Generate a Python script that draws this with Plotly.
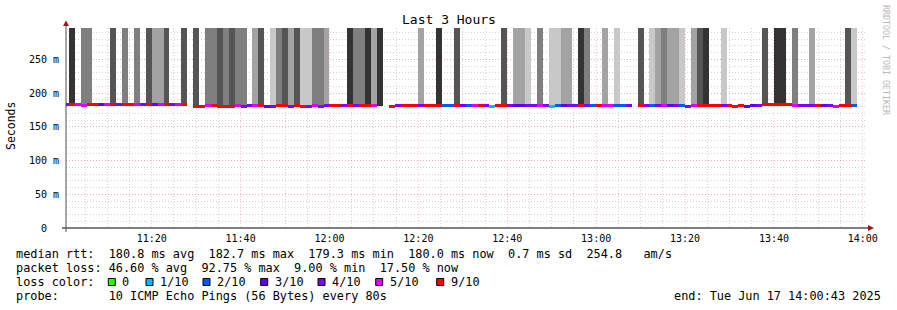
import plotly.graph_objects as go
import pandas as pd

# ---------------- canvas / plot-area geometry (pixels) ----------------
W, H = 897, 310
L, R, T, B = 66, 866, 28, 228

# ---------------- data ----------------
STEP_START = "2025-06-17 11:00:00"      # start of first (partial) 80 s step
STEP_SECONDS = 80
X_START = "2025-06-17 11:00:43"
X_END = "2025-06-17 14:00:43"
Y_MAX = 296.3                            # ms at top of plot
SMOKE_TOP = 2000.0                       # smoke extends beyond the visible range
LINE_MS = 4.4                            # thickness of the median line (ms)

# median rtt per 80 s step (ms); None = no data
median_ms = [
    182.3, 182.4, 182.4, 182.2, 182.7, 182.3, 182.4, 182.4, 182.3, 182.4,
    182.3, 182.4, 182.5, 182.4, 182.6, 182.5, 182.5, 182.4, 182.5, 182.5,
    182.4, None, 180.6, 180.4, 181.4, 180.8, 180.2, 180.0, 180.3, 181.0,
    180.6, 180.8, 181.2, 181.0, 180.6, 180.4, 181.0, 181.2, 180.6, 180.8,
    179.6, 180.6, 181.0, 180.6, 180.8, 181.2, 181.4, 180.8, 181.0, 181.2,
    181.6, 181.2, 181.4, None, None, 180.6, 181.8, 182.0, 182.0, 181.2,
    181.6, 181.8, 181.8, 181.8, 181.6, 181.2, 182.0, 181.6, 181.8, 182.0,
    182.0, 181.6, 179.6, 181.2, 181.6, 181.8, 182.0, 181.6, 181.0, 181.4,
    182.0, 181.6, 180.4, 181.2, 181.0, 181.2, 181.4, 181.8, 181.6, 181.0,
    181.4, 181.6, 181.6, 181.2, 181.2, 181.0, None, 181.8, 181.4, 181.2,
    181.0, 181.4, 181.0, 180.8, 181.2, 180.6, 181.6, 181.6, 181.6, 182.0,
    182.0, 181.4, 181.8, 180.6, 181.8, 180.6, 180.8, 181.4, 182.4, 182.6,
    182.6, 182.6, 182.6, 182.0, 181.6, 181.0, 180.8, 181.4, 181.0, 180.8,
    180.2, 181.6, 182.0, 180.8, None,
]

# loss bucket per step (colour of the median line)
loss_bucket = [
    "4/10", "9/10", "5/10", "5/10", "9/10", "9/10", "3/10", "5/10", "9/10", "4/10",
    "9/10", "9/10", "5/10", "4/10", "9/10", "3/10", "5/10", "9/10", "4/10", "5/10",
    "9/10", None, "9/10", "9/10", "5/10", "9/10", "9/10", "9/10", "9/10", "5/10",
    "4/10", "4/10", "5/10", "9/10", "3/10", "4/10", "9/10", "9/10", "4/10", "9/10",
    "9/10", "4/10", "5/10", "4/10", "4/10", "9/10", "9/10", "4/10", "9/10", "4/10",
    "9/10", "9/10", "5/10", None, None, "9/10", "4/10", "9/10", "9/10", "9/10",
    "4/10", "9/10", "9/10", "9/10", "2/10", "2/10", "9/10", "3/10", "2/10", "5/10",
    "9/10", "4/10", "1/10", "9/10", "9/10", "4/10", "3/10", "3/10", "4/10", "4/10",
    "5/10", "4/10", "1/10", "2/10", "3/10", "4/10", "4/10", "9/10", "4/10", "2/10",
    "9/10", "5/10", "5/10", "2/10", "2/10", "4/10", None, "9/10", "4/10", "2/10",
    "4/10", "5/10", "3/10", "4/10", "2/10", "4/10", "5/10", "9/10", "9/10", "9/10",
    "9/10", "4/10", "9/10", "9/10", "9/10", "3/10", "3/10", "4/10", "9/10", "9/10",
    "9/10", "9/10", "9/10", "5/10", "4/10", "4/10", "4/10", "9/10", "3/10", "4/10",
    "5/10", "9/10", "9/10", "2/10", None,
]

# smoke density level per step (0 = none, 1 = darkest ... 5 = lightest)
smoke_level = [
    0, 1, 0, 3, 3, 0, 0, 0, 2, 0,
    3, 0, 3, 0, 2, 4, 4, 2, 0, 0,
    2, 0, 2, 0, 3, 3, 2, 3, 2, 3,
    3, 0, 4, 2, 0, 5, 3, 2, 4, 2,
    5, 5, 3, 3, 4, 0, 0, 0, 1, 3,
    3, 1, 4, 1, 0, 0, 0, 0, 0, 0,
    4, 0, 0, 1, 0, 0, 2, 0, 0, 0,
    0, 0, 0, 0, 2, 0, 4, 4, 5, 0,
    3, 0, 5, 5, 4, 4, 0, 1, 3, 0,
    0, 4, 0, 5, 0, 0, 0, 2, 0, 5,
    4, 3, 4, 4, 5, 0, 4, 2, 1, 0,
    0, 5, 0, 0, 0, 0, 0, 0, 2, 0,
    1, 1, 0, 3, 0, 0, 4, 0, 0, 0,
    0, 0, 2, 5, 0,
]

y_tick_vals = [0, 50, 100, 150, 200, 250]
y_tick_text = ["0  ", "50 m", "100 m", "150 m", "200 m", "250 m"]

legend_buckets = ["0", "1/10", "2/10", "3/10", "4/10", "5/10", "9/10"]
stats_rtt = "median rtt:  180.8 ms avg  182.7 ms max  179.3 ms min  180.0 ms now  0.7 ms sd  254.8   am/s"
stats_loss = "packet loss: 46.60 % avg  92.75 % max  9.00 % min  17.50 % now"
probe_text = "probe:       10 ICMP Echo Pings (56 Bytes) every 80s"
end_text = "end: Tue Jun 17 14:00:43 2025"

# ---------------- styles ----------------
LOSS_COLORS = {"0": "#26ff00", "1/10": "#00b8ff", "2/10": "#0059ff", "3/10": "#5e00ff",
               "4/10": "#7e00ff", "5/10": "#dd00ff", "9/10": "#ff0000"}
SMOKE_COLORS = {1: "#333333", 2: "#555555", 3: "#7f7f7f", 4: "#a3a3a3", 5: "#c8c8c8"}
FONT = "DejaVu Sans Mono"
MGRID = "rgba(255,120,120,0.42)"
GRID = "rgba(170,170,170,0.5)"

times = pd.date_range(STEP_START, periods=len(median_ms), freq=f"{STEP_SECONDS}s") \
    + pd.Timedelta(seconds=STEP_SECONDS / 2)
width_ms = STEP_SECONDS * 1000


def fallback(i):
    if median_ms[i] is not None:
        return median_ms[i]
    for d in range(1, len(median_ms)):
        for j in (i - d, i + d):
            if 0 <= j < len(median_ms) and median_ms[j] is not None:
                return median_ms[j]
    return 0


fig = go.Figure()

# smoke
sx, sb, sy, sc = [], [], [], []
for i, lvl in enumerate(smoke_level):
    if lvl:
        base = fallback(i)
        sx.append(times[i]); sb.append(base); sy.append(SMOKE_TOP - base)
        sc.append(SMOKE_COLORS[lvl])
fig.add_trace(go.Bar(x=sx, y=sy, base=sb, width=[width_ms] * len(sx),
                     marker=dict(color=sc, line=dict(width=0)), hoverinfo="skip"))

# median line coloured by loss
mx, mb, my, mc = [], [], [], []
for i, m in enumerate(median_ms):
    if m is not None and loss_bucket[i] is not None:
        mx.append(times[i]); mb.append(m - LINE_MS / 2); my.append(LINE_MS)
        mc.append(LOSS_COLORS[loss_bucket[i]])
fig.add_trace(go.Bar(x=mx, y=my, base=mb, width=[width_ms] * len(mx),
                     marker=dict(color=mc, line=dict(width=0)), hoverinfo="skip"))


def px_x(p):
    return (p - L) / (R - L)


def px_y(p):
    return (B - p) / (B - T)


shapes = []
# axes
shapes.append(dict(type="line", xref="paper", yref="paper", x0=px_x(62), x1=px_x(869),
                   y0=0, y1=0, line=dict(color="#000000", width=1)))
shapes.append(dict(type="line", xref="paper", yref="paper", x0=0, x1=0,
                   y0=px_y(232), y1=px_y(25), line=dict(color="#505050", width=1)))
ARROW = "#a01818"
shapes.append(dict(type="path", xref="paper", yref="paper",
                   path=f"M {px_x(868)},{px_y(225)} L {px_x(874)},{px_y(228)} L {px_x(868)},{px_y(231)} Z",
                   fillcolor=ARROW, line=dict(width=0)))
shapes.append(dict(type="path", xref="paper", yref="paper",
                   path=f"M {px_x(63)},{px_y(26)} L {px_x(66)},{px_y(20.5)} L {px_x(69)},{px_y(26)} Z",
                   fillcolor=ARROW, line=dict(width=0)))

annotations = []


def text(x, y, s, size=11.85, xanchor="left", color="#000000", angle=0):
    annotations.append(dict(x=px_x(x), y=px_y(y), xref="paper", yref="paper", text=s,
                            showarrow=False, xanchor=xanchor, yanchor="middle",
                            textangle=angle, borderpad=0, borderwidth=0,
                            font=dict(family=FONT, size=size, color=color)))


text(448.5, 20, "Last 3 Hours", size=13, xanchor="center")
text(11, 126, "Seconds", size=11.5, xanchor="center", angle=-90)
text(886, 60, "RRDTOOL / TOBI OETIKER", size=8.3, xanchor="center", color="#b8b8b8", angle=90)
text(16, 254, stats_rtt)
text(16, 268, stats_loss)
text(16, 282, "loss color:")
text(16, 296, probe_text)
text(881, 296, end_text, xanchor="right")

sq_x = [108.3, 146, 203, 260.7, 318, 375.7, 436.7]
for xx, b in zip(sq_x, legend_buckets):
    shapes.append(dict(type="rect", xref="paper", yref="paper",
                       x0=px_x(xx), x1=px_x(xx + 7), y0=px_y(285.5), y1=px_y(278.5),
                       fillcolor=LOSS_COLORS[b], line=dict(color="#000000", width=1)))
    text(xx + 14, 282, b)

fig.update_layout(
    width=W, height=H,
    margin=dict(l=L, r=W - R, t=T, b=H - B, pad=0),
    paper_bgcolor="white", plot_bgcolor="white",
    showlegend=False, barmode="overlay", bargap=0,
    font=dict(family=FONT, color="#000000"),
    shapes=shapes, annotations=annotations,
    xaxis=dict(type="date", range=[X_START, X_END], tickmode="linear",
               tick0="2025-06-17 11:00", dtick=20 * 60 * 1000, tickformat="%H:%M",
               showgrid=True, gridcolor=MGRID, griddash="1px,2px", gridwidth=1,
               minor=dict(tickmode="linear", tick0="2025-06-17 11:00", dtick=5 * 60 * 1000,
                          showgrid=True, gridcolor=GRID, griddash="1px,2px", gridwidth=1),
               showline=False, zeroline=False, ticks="",
               tickfont=dict(family=FONT, size=10, color="#000000"),
               ticklabelstandoff=3, fixedrange=True),
    yaxis=dict(range=[0, Y_MAX], tickmode="array", tickvals=y_tick_vals, ticktext=y_tick_text,
               showgrid=True, gridcolor=MGRID, griddash="1px,2px", gridwidth=1,
               minor=dict(tickmode="linear", tick0=0, dtick=10, showgrid=True,
                          gridcolor=GRID, griddash="1px,2px", gridwidth=1),
               showline=False, zeroline=False, ticks="",
               tickfont=dict(family=FONT, size=10, color="#000000"),
               ticklabelstandoff=6, fixedrange=True),
)

fig.write_html("out.html")
